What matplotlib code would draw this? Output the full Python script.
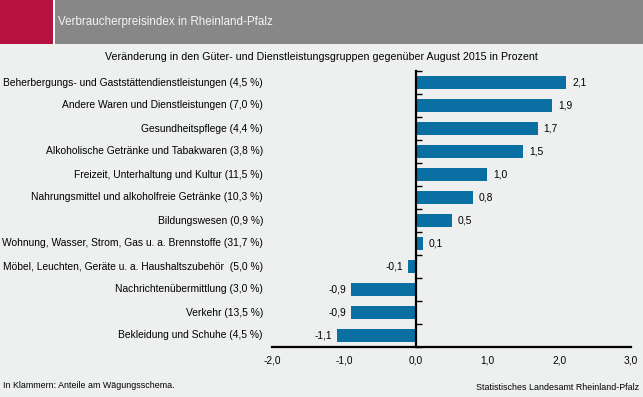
import matplotlib.pyplot as plt
import matplotlib.patches as mpatches
from matplotlib.transforms import blended_transform_factory, offset_copy

plt.rcParams['font.family'] = ['Liberation Sans', 'DejaVu Sans']

# Data (top to bottom)
categories = [
    'Beherbergungs- und Gaststättendienstleistungen (4,5 %)',
    'Andere Waren und Dienstleistungen (7,0 %)',
    'Gesundheitspflege (4,4 %)',
    'Alkoholische Getränke und Tabakwaren (3,8 %)',
    'Freizeit, Unterhaltung und Kultur (11,5 %)',
    'Nahrungsmittel und alkoholfreie Getränke (10,3 %)',
    'Bildungswesen (0,9 %)',
    'Wohnung, Wasser, Strom, Gas u. a. Brennstoffe (31,7 %)',
    'Möbel, Leuchten, Geräte u. a. Haushaltszubehör  (5,0 %)',
    'Nachrichtenübermittlung (3,0 %)',
    'Verkehr (13,5 %)',
    'Bekleidung und Schuhe (4,5 %)',
]
values = [2.1, 1.9, 1.7, 1.5, 1.0, 0.8, 0.5, 0.1, -0.1, -0.9, -0.9, -1.1]
x_ticks = [-2.0, -1.0, 0.0, 1.0, 2.0, 3.0]

BG = '#eef0ef'
BAR = '#0a70a3'
HEADER_GRAY = '#878788'
HEADER_RED = '#b5123f'

fig = plt.figure(figsize=(6.43, 3.97), dpi=100)
fig.patch.set_facecolor(BG)

# Header band
fig.add_artist(mpatches.Rectangle((0, 1 - 44 / 397), 53 / 643, 44 / 397,
                                  transform=fig.transFigure, color=HEADER_RED, lw=0))
fig.add_artist(mpatches.Rectangle((55 / 643, 1 - 44 / 397), 1, 44 / 397,
                                  transform=fig.transFigure, color=HEADER_GRAY, lw=0))
fig.add_artist(mpatches.Rectangle((53 / 643, 1 - 44 / 397), 2 / 643, 44 / 397,
                                  transform=fig.transFigure, color='white', lw=0))
fig.text(58 / 643, 1 - 22.5 / 397, 'Verbraucherpreisindex in Rheinland-Pfalz',
         color='#f4f4f4', fontsize=8.4, va='center', ha='left')
fig.text(321 / 643, 1 - 57 / 397,
         'Veränderung in den Güter- und Dienstleistungsgruppen gegenüber August 2015 in Prozent',
         color='black', fontsize=7.7, va='center', ha='center')

ax = fig.add_axes([272 / 643, 1 - 347 / 397, 359 / 643, 276 / 397])
ax.set_facecolor(BG)

n = len(categories)
ypos = list(range(n))
ax.barh(ypos, values, height=0.57, color=BAR, zorder=2)
ax.set_xlim(-2, 3)
ax.set_ylim(n - 0.5, -0.5)

# Axes styling
for s in ['top', 'right']:
    ax.spines[s].set_visible(False)
ax.spines['left'].set_position(('data', 0))
ax.spines['left'].set_linewidth(1.6)
ax.spines['bottom'].set_linewidth(1.6)
ax.spines['left'].set_zorder(3)

ax.set_yticks([i - 0.5 for i in range(n + 1)])
ax.set_yticklabels([])
ax.tick_params(axis='y', direction='in', length=4, width=1)

ax.set_xticks(x_ticks)
ax.set_xticklabels([f'{t:.1f}'.replace('.', ',') for t in x_ticks], fontsize=7.3)
ax.tick_params(axis='x', length=0, pad=6)
ax.set_xticks([-2.0, 3.0], minor=True)
ax.tick_params(axis='x', which='minor', direction='in', length=4, width=1.5)

# Category labels
trans = blended_transform_factory(fig.transFigure, ax.transData)
for i, cat in enumerate(categories):
    ax.text(263 / 643, i, cat, transform=trans, ha='right', va='center', fontsize=7.35)

# Value labels
for i, v in enumerate(values):
    txt = f'{v:.1f}'.replace('.', ',')
    if v >= 0:
        t = offset_copy(ax.transData, fig=fig, x=6, y=0, units='dots')
        ax.text(v, i, txt, transform=t, ha='left', va='center', fontsize=7.35)
    else:
        t = offset_copy(ax.transData, fig=fig, x=-5, y=0, units='dots')
        ax.text(v, i, txt, transform=t, ha='right', va='center', fontsize=7.35)

# Footnotes
fig.text(3 / 643, 1 - 385 / 397, 'In Klammern: Anteile am Wägungsschema.',
         fontsize=6.4, va='center', ha='left')
fig.text(639 / 643, 1 - 387 / 397, 'Statistisches Landesamt Rheinland-Pfalz',
         fontsize=6.4, va='center', ha='right')

fig.savefig('out.png', dpi=100, facecolor=BG)
